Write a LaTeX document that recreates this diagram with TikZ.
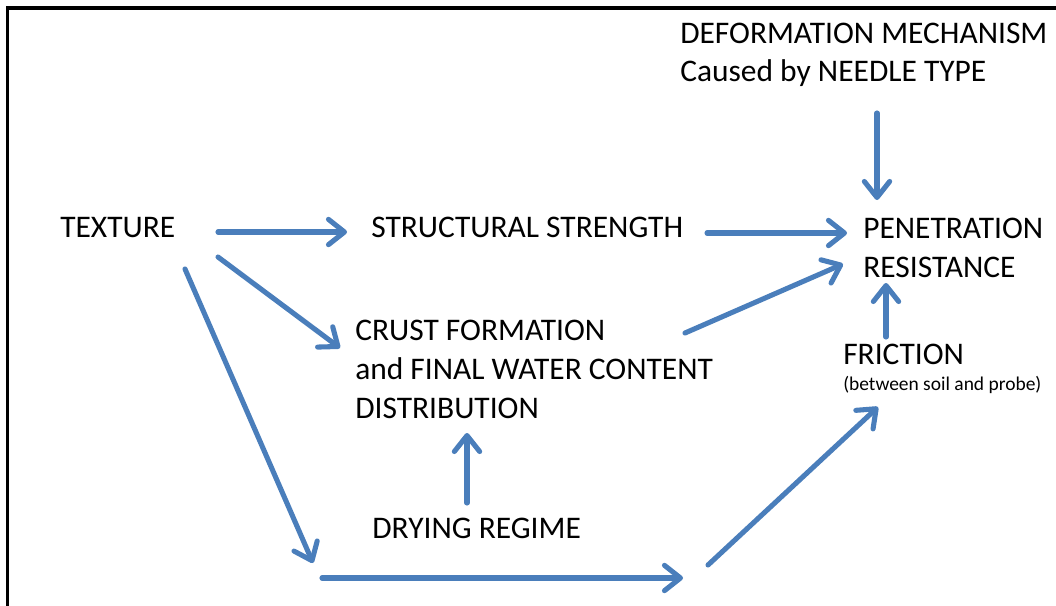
\documentclass[tikz,border=0pt]{standalone}
\usepackage{fontspec}
\setmainfont{Carlito}
\usetikzlibrary{arrows.meta}
\definecolor{flowblue}{RGB}{74,126,187}
\tikzset{
  label/.style={anchor=base west, inner sep=0pt, align=left, font=\fontsize{23.6}{29}\selectfont},
  note/.style={anchor=base west, inner sep=0pt, font=\fontsize{14.6}{17}\selectfont},
  flow/.style={draw=flowblue, line width=3.8pt, line cap=round,
    -{Straight Barb[length=12pt, width=19pt, round]}}
}
\begin{document}
\begin{tikzpicture}[x=0.75pt, y=-0.75pt]
        \useasboundingbox (0,0) rectangle (1056,606);
        \draw[line width=2.3pt] (7.5,620) -- (7.5,8) -- (1070,8);
        % texts (base = last line)
        \node[label] (deform) at (680,82) {DEFORMATION MECHANISM\\Caused by NEEDLE TYPE};
        \node[label] (texture) at (60,237) {TEXTURE};
        \node[label] (structural) at (371,237) {STRUCTURAL STRENGTH};
        \node[label] (pen) at (863,277) {PENETRATION\\RESISTANCE};
        \node[label] (crust) at (355,418) {CRUST FORMATION\\and FINAL WATER CONTENT\\DISTRIBUTION};
        \node[label] (friction) at (843,364) {FRICTION};
        \node[note] (frictionnote) at (843,390) {(between soil and probe)};
        \node[label] (drying) at (372,538) {DRYING REGIME};
        \coordinate (lowdrop) at (313,563);
        \coordinate (lowleft) at (322,578);
        \coordinate (lowright) at (683,578);
        \coordinate (rise) at (708,565);
        % arrows
        \draw[flow] ([shift={(158,-5)}]texture.base west) -- ([shift={(-24,-5)}]structural.base west);
        \draw[flow] ([shift={(158,20)}]texture.base west) -- ([shift={(-15,-70)}]crust.base west);
        \draw[flow] ([shift={(125,32)}]texture.base west) -- (lowdrop);
        \draw[flow] (lowleft) -- (lowright);
        \draw[flow] (rise) -- ([shift={(35,43)}]friction.base west);
        \draw[flow] ([shift={(95,-35)}]drying.base west) -- ([shift={(112,15)}]crust.base west);
        \draw[flow] ([shift={(43,-27)}]friction.base west) -- ([shift={(23,6)}]pen.base west);
        \draw[flow] ([shift={(336,-4)}]structural.base west) -- ([shift={(-16,-44)}]pen.base west);
        \draw[flow] ([shift={(330,-85)}]crust.base west) -- ([shift={(-20,-13)}]pen.base west);
        \draw[flow] ([shift={(197,31)}]deform.base west) -- ([shift={(14,-77)}]pen.base west);
    \end{tikzpicture}
\end{document}
